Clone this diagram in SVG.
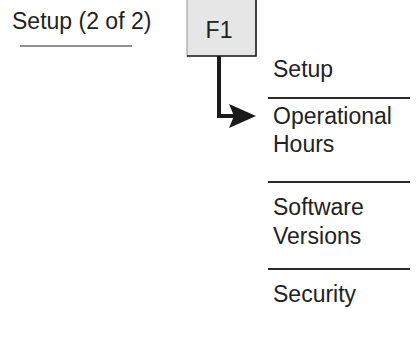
<svg xmlns="http://www.w3.org/2000/svg" width="416" height="338" viewBox="0 0 416 338">
<style>
text{font-family:"Liberation Sans",Arial,sans-serif;font-size:23px;fill:#222}
.sep{stroke:#2a2a2a;stroke-width:2}
.conn{fill:none;stroke:#1a1a1a;stroke-width:4}
</style>
<rect width="416" height="338" fill="#fff"/>
<g id="title">
<text x="12" y="29">Setup (2 of 2)</text>
<line x1="20" y1="46" x2="132" y2="46" stroke="#222" stroke-width="1.2"/>
</g>
<g id="f1">
<rect x="187" y="-2" width="69" height="58" fill="#e6e6e6" stroke="#999" stroke-width="1"/>
<polyline points="256,-2 256,56 187,56" fill="none" stroke="#222" stroke-width="1.6"/>
<text x="219" y="38" text-anchor="middle">F1</text>
</g>
<g id="connectors">
<path class="conn" d="M219 56 V116 H234"/>
<polygon points="256,116 229,104 234,116 229,128" fill="#1a1a1a"/>
</g>
<g id="menu">
<text x="273" y="77">Setup</text>
<line class="sep" x1="268" y1="98" x2="410" y2="98"/>
<text x="273" y="124">Operational</text>
<text x="273" y="152">Hours</text>
<line class="sep" x1="268" y1="182" x2="410" y2="182"/>
<text x="273" y="215">Software</text>
<text x="273" y="244">Versions</text>
<line class="sep" x1="268" y1="269" x2="410" y2="269"/>
<text x="273" y="302">Security</text>
</g>
</svg>
